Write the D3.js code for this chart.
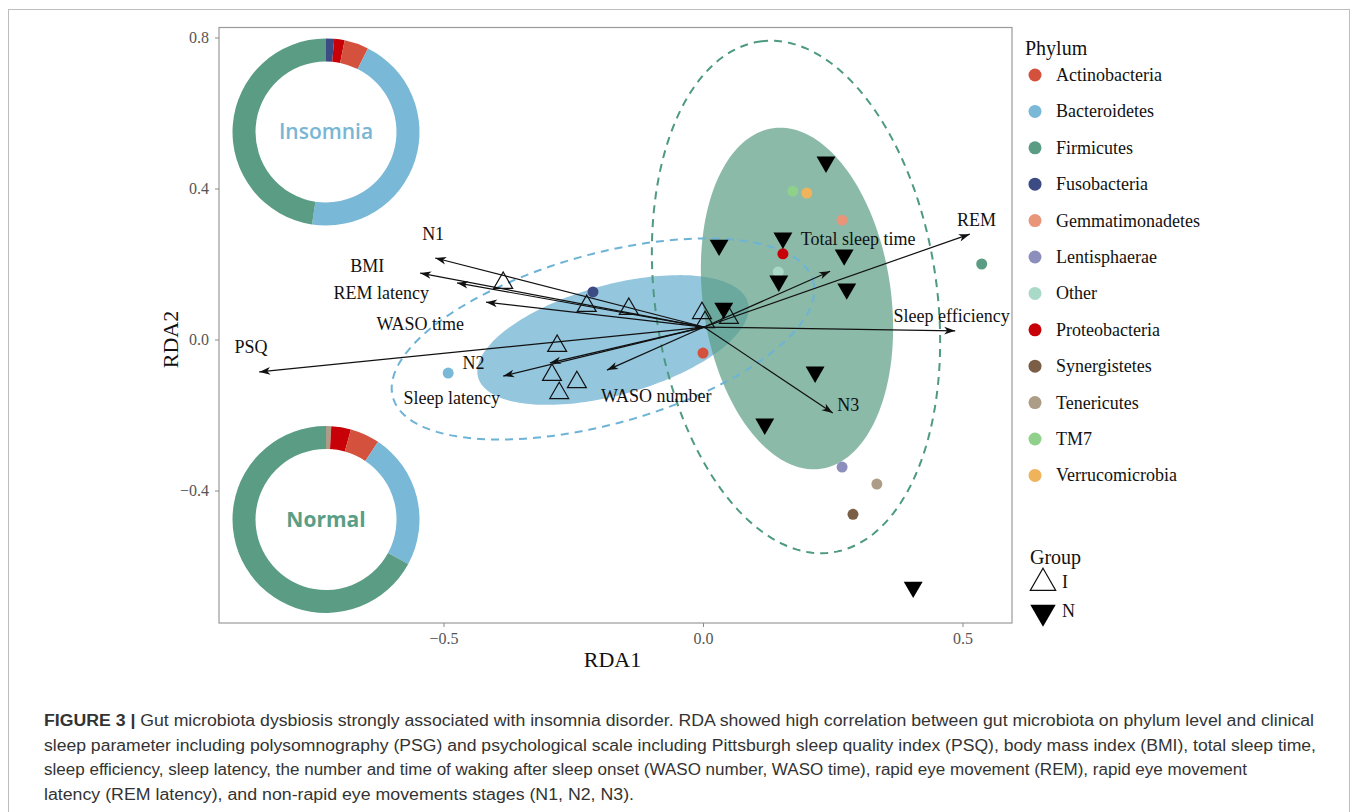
<!DOCTYPE html>
<html><head><meta charset="utf-8">
<script src="https://cdn.jsdelivr.net/npm/d3@7"></script>
<style>body{margin:0;background:#fff;} svg{display:block;}</style>
</head><body>
<svg id="chart" width="1358" height="812"></svg>
<script>
// ---------------- DATA ----------------
const phyla = ["Actinobacteria","Bacteroidetes","Firmicutes","Fusobacteria","Gemmatimonadetes","Lentisphaerae","Other","Proteobacteria","Synergistetes","Tenericutes","TM7","Verrucomicrobia"];
const phylumColors = ["#d4513d","#79b8d6","#5a9c84","#3d4b85","#e8957a","#8c8fbc","#a9d9c7","#c80008","#7a5f46","#ad9c86","#8fd18a","#efb35c"];
const phylumRDA1 = [0.000,-0.491,0.537,-0.212,0.268,0.268,0.145,0.154,0.289,0.335,0.173,0.200];
const phylumRDA2 = [-0.036,-0.089,0.200,0.126,0.316,-0.338,0.179,0.227,-0.463,-0.383,0.393,0.388];

const groupI_RDA1 = [-0.385,-0.224,-0.143,-0.002,0.004,0.050,-0.281,-0.291,-0.243,-0.277];
const groupI_RDA2 = [0.150,0.089,0.081,0.070,0.046,0.057,-0.017,-0.094,-0.113,-0.142];
const groupN_RDA1 = [0.237,0.031,0.154,0.272,0.146,0.277,0.040,0.216,0.119,0.405];
const groupN_RDA2 = [0.470,0.250,0.269,0.224,0.155,0.134,0.083,-0.086,-0.224,-0.656];

const envNames = ["PSQ","N1","BMI","REM latency","WASO time","N2","Sleep latency","WASO number","Total sleep time","REM","Sleep efficiency","N3"];
const envRDA1 = [-0.855,-0.516,-0.545,-0.474,-0.418,-0.295,-0.385,-0.185,0.245,0.514,0.486,0.250];
const envRDA2 = [-0.086,0.216,0.176,0.150,0.099,-0.062,-0.097,-0.081,0.181,0.279,0.023,-0.195];
const envLabelRDA1 = [-0.871,-0.520,-0.647,-0.620,-0.545,-0.442,-0.484,-0.090,0.299,0.527,0.479,0.280];
const envLabelRDA2 = [-0.020,0.281,0.196,0.125,0.043,-0.061,-0.154,-0.148,0.268,0.317,0.064,-0.172];
const arrowOrigin = [0.002, 0.033];

// ellipses: centre and two conjugate semi-axis vectors, data units
const ellipseNames  = ["I filled","N filled","I dashed","N dashed"];
const ellipseCX  = [-0.1734, 0.1811, -0.1927, 0.1792];
const ellipseCY  = [-0.0013, 0.1086, 0.0013, 0.1126];
const ellipseUX  = [0.2599, -0.0461, 0.4048, -0.0692];
const ellipseUY  = [0.0991, 0.4511, 0.1544, 0.6768];
const ellipseVX  = [0.0283, 0.1794, 0.0437, 0.2690];
const ellipseVY  = [-0.1404, 0.0347, -0.2170, 0.0519];

const xTicks = [-0.5, 0, 0.5];
const yTicks = [-0.4, 0, 0.4, 0.8];

const donutPhyla = ["Tenericutes","Fusobacteria","Proteobacteria","Actinobacteria","Bacteroidetes","Firmicutes"];
const insomniaShares = [0.0, 1.4, 1.8, 4.2, 45.0, 47.6];
const normalShares   = [0.9, 0.0, 3.4, 5.1, 23.5, 67.1];
const donutTitles = ["Insomnia","Normal"];
const donutCenterRDA1 = [-0.7264, -0.7264];
const donutCenterRDA2 = [0.5497, -0.4768];

const groupNames = ["I","N"];
const captionLines = [
  ["FIGURE 3 | ","Gut microbiota dysbiosis strongly associated with insomnia disorder. RDA showed high correlation between gut microbiota on phylum level and clinical"],
  ["","sleep parameter including polysomnography (PSG) and psychological scale including Pittsburgh sleep quality index (PSQ), body mass index (BMI), total sleep time,"],
  ["","sleep efficiency, sleep latency, the number and time of waking after sleep onset (WASO number, WASO time), rapid eye movement (REM), rapid eye movement"],
  ["","latency (REM latency), and non-rapid eye movements stages (N1, N2, N3)."]
];
const captionWidths = [1270, 1272, 1203, 590];

// ---------------- CHART ----------------
const svg = d3.select("#chart");
const serif = "'Liberation Serif','Times New Roman',serif";
const L=219, R=1012, T=27.5, B=623;
const x = d3.scaleLinear().domain([-0.9326, 0.5954]).range([L, R]);
const y = d3.scaleLinear().domain([-0.751, 0.8265]).range([B, T]);
const color = d3.scaleOrdinal().domain(phyla).range(phylumColors);

// outer frame
svg.append("rect").attr("x",8.5).attr("y",9.5).attr("width",1341).attr("height",830)
  .attr("fill","none").attr("stroke","#bdbdbd").attr("stroke-width",1);

// ellipses
const eline = d3.line().x(d=>x(d[0])).y(d=>y(d[1])).curve(d3.curveLinearClosed);
function ellPts(i){
  return d3.range(0,360,2).map(deg=>{const t=deg*Math.PI/180;
    return [ellipseCX[i]+ellipseUX[i]*Math.cos(t)+ellipseVX[i]*Math.sin(t),
            ellipseCY[i]+ellipseUY[i]*Math.cos(t)+ellipseVY[i]*Math.sin(t)];});
}
svg.append("path").attr("d",eline(ellPts(0))).attr("fill",color("Bacteroidetes")).attr("fill-opacity",0.8);
svg.append("path").attr("d",eline(ellPts(1))).attr("fill",color("Firmicutes")).attr("fill-opacity",0.7);
svg.append("path").attr("d",eline(ellPts(2))).attr("fill","none").attr("stroke","#6db3d6").attr("stroke-width",2).attr("stroke-dasharray","8,6");
svg.append("path").attr("d",eline(ellPts(3))).attr("fill","none").attr("stroke","#4e9a80").attr("stroke-width",2).attr("stroke-dasharray","8,6");

// panel border
svg.append("rect").attr("x",L).attr("y",T).attr("width",R-L).attr("height",B-T)
  .attr("fill","none").attr("stroke","#9a9a9a").attr("stroke-width",1.2);

// axes
const fmt = d3.format(".1f");
const xa = svg.append("g").attr("transform",`translate(0,${B})`)
  .call(d3.axisBottom(x).tickValues(xTicks).tickFormat(fmt).tickSize(4).tickPadding(6));
const ya = svg.append("g").attr("transform",`translate(${L},0)`)
  .call(d3.axisLeft(y).tickValues(yTicks).tickFormat(fmt).tickSize(4).tickPadding(6));
[xa,ya].forEach(g=>{g.select(".domain").remove();
  g.selectAll("line").attr("stroke","#8a8a8a");
  g.selectAll("text").attr("font-family",serif).attr("font-size",16).attr("fill","#555");});
svg.append("text").attr("x",(L+R)/2 - 3).attr("y",667).attr("text-anchor","middle")
  .attr("font-family",serif).attr("font-size",22).attr("fill","#111").text("RDA1");
svg.append("text").attr("transform",`translate(178,${y(0)}) rotate(-90)`).attr("text-anchor","middle")
  .attr("font-family",serif).attr("font-size",22).attr("fill","#111").text("RDA2");

// donuts
const pie = d3.pie().sort(null).value(d=>d.v);
const arc = d3.arc().innerRadius(70.5).outerRadius(93.5);
[insomniaShares, normalShares].forEach((shares,k)=>{
  const g = svg.append("g").attr("transform",`translate(${x(donutCenterRDA1[k])},${y(donutCenterRDA2[k])})`);
  const data = donutPhyla.map((p,i)=>({p, v:shares[i]}));
  g.selectAll("path").data(pie(data)).join("path").attr("d",arc).attr("fill",d=>color(d.data.p));
  g.append("text").attr("text-anchor","middle").attr("dy","0.35em")
    .attr("font-family","'Open Sans','Noto Sans',sans-serif").attr("font-weight",k===0?600:700)
    .attr("font-size",21).attr("fill",k===0?"#79b6d5":"#5a9e86").text(donutTitles[k]);
});

// arrows
const defs = svg.append("defs");
defs.append("marker").attr("id","ah").attr("viewBox","-12 -5 13 10").attr("refX",0).attr("refY",0)
  .attr("markerUnits","userSpaceOnUse").attr("markerWidth",13).attr("markerHeight",10).attr("orient","auto")
  .append("path").attr("d","M0,0 L-11,-3.8 L-8,0 L-11,3.8 Z").attr("fill","#111");
const ag = svg.append("g");
envNames.forEach((n,i)=>{
  ag.append("line").attr("x1",x(arrowOrigin[0])).attr("y1",y(arrowOrigin[1]))
    .attr("x2",x(envRDA1[i])).attr("y2",y(envRDA2[i]))
    .attr("stroke","#111").attr("stroke-width",1.2).attr("marker-end","url(#ah)");
  ag.append("text").attr("x",x(envLabelRDA1[i])).attr("y",y(envLabelRDA2[i]))
    .attr("text-anchor","middle").attr("dy","0.35em").attr("font-family",serif)
    .attr("font-size",18).attr("fill","#111").text(n);
});

// phylum points
svg.append("g").selectAll("circle").data(phyla).join("circle")
  .attr("cx",(d,i)=>x(phylumRDA1[i])).attr("cy",(d,i)=>y(phylumRDA2[i])).attr("r",5.5)
  .attr("fill",d=>color(d));

// samples
const triUp = d3.symbol().type(d3.symbolTriangle).size(155);
svg.append("g").selectAll("path").data(groupI_RDA1).join("path")
  .attr("transform",(d,i)=>`translate(${x(d)},${y(groupI_RDA2[i])})`).attr("d",triUp)
  .attr("fill","none").attr("stroke","#111").attr("stroke-width",1.2);
svg.append("g").selectAll("path").data(groupN_RDA1).join("path")
  .attr("transform",(d,i)=>`translate(${x(d)},${y(groupN_RDA2[i])}) rotate(180)`).attr("d",triUp)
  .attr("fill","#000");

// legend: phylum
const lg = svg.append("g");
lg.append("text").attr("x",1025).attr("y",48).attr("dy","0.35em").attr("font-family",serif)
  .attr("font-size",20).attr("fill","#111").text("Phylum");
phyla.forEach((p,i)=>{
  const yy = 75 + i*36.4;
  lg.append("circle").attr("cx",1035).attr("cy",yy).attr("r",6.5).attr("fill",color(p));
  lg.append("text").attr("x",1056).attr("y",yy).attr("dy","0.33em").attr("font-family",serif)
    .attr("font-size",18).attr("fill","#111").text(p);
});
// legend: group
lg.append("text").attr("x",1030).attr("y",557).attr("dy","0.35em").attr("font-family",serif)
  .attr("font-size",20).attr("fill","#111").text("Group");
const triBig = d3.symbol().type(d3.symbolTriangle).size(280);
groupNames.forEach((g,i)=>{
  const yy = 583 + i*29;
  lg.append("path").attr("transform",`translate(1043,${yy}) rotate(${i?180:0})`).attr("d",triBig)
    .attr("fill",i?"#000":"none").attr("stroke","#111").attr("stroke-width",i?0:1.2);
  lg.append("text").attr("x",1062).attr("y",yy-1).attr("dy","0.35em").attr("font-family",serif)
    .attr("font-size",18).attr("fill","#111").text(g);
});

// caption
captionLines.forEach((ln,i)=>{
  const t = svg.append("text").attr("x",44).attr("y",726+i*24.5)
    .attr("font-family","'Liberation Sans',Arial,sans-serif").attr("font-size",16).attr("fill","#333")
    .attr("textLength",captionWidths[i]).attr("lengthAdjust","spacingAndGlyphs");
  if (ln[0]) t.append("tspan").attr("font-weight",700).text(ln[0]);
  t.append("tspan").text(ln[1]);
});
</script>
</body></html>
